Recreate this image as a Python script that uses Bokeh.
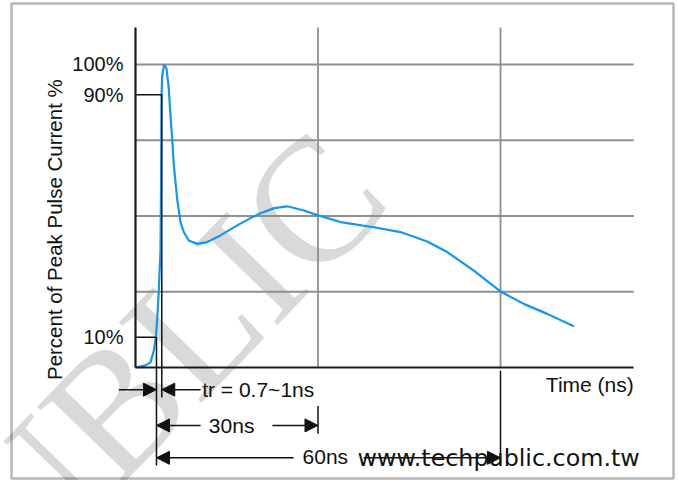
import math
from bokeh.plotting import figure
from bokeh.models import Range1d, FixedTicker, Label, Arrow, NormalHead, BoxAnnotation, LinearAxis
from bokeh.embed import file_html
from bokeh.resources import INLINE

# ---- data ----
time_ns = [0, 1.64, 2.47, 3.01, 3.34, 3.57, 3.83, 4.11, 4.2, 4.27, 4.39, 4.72, 5.10, 5.47,
           5.75, 6.03, 6.30, 6.85, 7.40, 7.94, 8.76, 10.14, 11.79, 13.97, 16.72, 18.90,
           20.55, 22.8, 24.94, 27.67, 30.03, 33.70, 39.17, 43.56, 47.95, 51.24, 55.61,
           60.0, 63.83, 67.68, 72.05]
pulse_pct = [0, 0.7, 1.7, 5.6, 9.8, 16, 25.4, 38.6, 60, 88.9, 96.4, 100, 98.6, 92,
             83.2, 75.5, 66.7, 55.7, 48, 44.7, 41.9, 40.8, 41.4, 43.6, 46.9, 49.3,
             50.9, 52.6, 53.2, 51.8, 50.2, 48, 46.3, 44.7, 41.6, 38.1, 32,
             25.1, 21, 17.7, 13.6]
t10_ns = 3.45          # time where the pulse reaches 10 %
t90_ns = 4.32          # time where the pulse reaches 90 %
level_10 = 10
level_90 = 90
span_30 = 30
span_60 = 60
y_ticks = [10, 90, 100]
y_tick_labels = ["10%", "90%", "100%"]
grid_y = [25, 50, 75, 100]
grid_x = [30, 60]
x_max = 81.9
y_max = 112.2

FONT = "Liberation Sans"
INK = "#111111"

p = figure(width=678, height=480, x_range=Range1d(-22.19, 89.26), y_range=Range1d(-37.29, 121.12),
           output_backend="svg", toolbar_location=None, x_axis_location=None, y_axis_location=None,
           min_border=0, min_border_left=0, min_border_right=0, min_border_top=0, min_border_bottom=0)
p.outline_line_color = None
p.background_fill_color = "white"
p.border_fill_color = "white"
p.grid.visible = False

# watermark
p.add_layout(Label(x=5.5, y=5.4, text="UBLIC", angle=0.8, text_font="Liberation Serif",
                   text_font_size="176px", text_color="#d9d9d9", text_align="center",
                   text_baseline="middle", level="underlay"))

# grid lines (bounded to the chart area)
p.segment(x0=grid_x, y0=[0] * len(grid_x), x1=grid_x, y1=[y_max] * len(grid_x),
          line_color="#8f8f8f", line_width=1.8)
p.segment(x0=[0] * len(grid_y), y0=grid_y, x1=[x_max] * len(grid_y), y1=grid_y,
          line_color="#8f8f8f", line_width=1.8)

# axes fixed at the origin
yax = LinearAxis(fixed_location=0, bounds=(0, y_max), ticker=FixedTicker(ticks=y_ticks))
yax.major_label_overrides = dict(zip(y_ticks, y_tick_labels))
yax.major_tick_line_color = None
yax.minor_tick_line_color = None
yax.major_tick_out = 0
yax.major_tick_in = 0
yax.major_label_standoff = 12
yax.major_label_text_font = FONT
yax.major_label_text_font_size = "20px"
yax.major_label_text_color = INK
yax.axis_line_width = 2.2
yax.axis_line_color = "#1a1a1a"
p.add_layout(yax, "left")

xax = LinearAxis(fixed_location=0, bounds=(0, x_max), ticker=FixedTicker(ticks=[]))
xax.major_tick_line_color = None
xax.minor_tick_line_color = None
xax.major_label_text_font_size = "0px"
xax.axis_line_width = 2.2
xax.axis_line_color = "#1a1a1a"
p.add_layout(xax, "below")

# pulse curve
p.line(time_ns, pulse_pct, line_color="#1296ee", line_width=2.2)

def seg(x0, y0, x1, y1, head=False):
    a = Arrow(x_start=x0, y_start=y0, x_end=x1, y_end=y1, line_color=INK, line_width=1.5,
              end=NormalHead(size=13, fill_color=INK, line_color=INK, line_width=1) if head else None)
    p.add_layout(a)

# 10 % / 90 % markers
seg(0, level_90, t90_ns, level_90)
seg(0, level_10, t10_ns, level_10)
seg(t90_ns, level_90, t90_ns, -9.9)
seg(t10_ns, level_10, t10_ns, -32.3)
seg(span_30, -12.7, span_30, -21.9)
seg(span_60, -1, span_60, -32.3)

# rise-time arrows
y_tr = -7.3
seg(-2.75, y_tr, t10_ns, y_tr, head=True)
seg(10.7, y_tr, t90_ns, y_tr, head=True)
# 30 ns
y30 = -19.1
seg(10.7, y30, t10_ns, y30, head=True)
seg(22.5, y30, span_30, y30, head=True)
# 60 ns
y60 = -29.8
seg(26.0, y60, t10_ns, y60, head=True)
seg(37.5, y60, span_60, y60, head=True)

def lab(x, y, text, align="left", size="21px", font=FONT, baseline="middle", angle=0.0):
    p.add_layout(Label(x=x, y=y, text=text, text_font=font, text_font_size=size, angle=angle,
                       text_color=INK, text_align=align, text_baseline=baseline))

lab(10.96, y_tr, "tr = 0.7~1ns")
lab(15.8, y30, "30ns", align="center")
lab(31.2, -29.4, "60ns", align="center")
lab(x_max, -5.6, "Time (ns)", align="right")
lab(36.5, -29.7, "www.techpublic.com.tw", size="23.8px", font="DejaVu Sans", baseline="alphabetic")
lab(-13.3, 45.5, "Percent of Peak Pulse Current %", align="center", size="20.5px", angle=math.pi / 2)

# outer frame
p.add_layout(BoxAnnotation(left=-20.38, right=88.44, bottom=-36.63, top=120.13,
                           fill_color=None, line_color=INK, line_width=2.5))

open("out.html", "w").write(file_html(p, INLINE))
